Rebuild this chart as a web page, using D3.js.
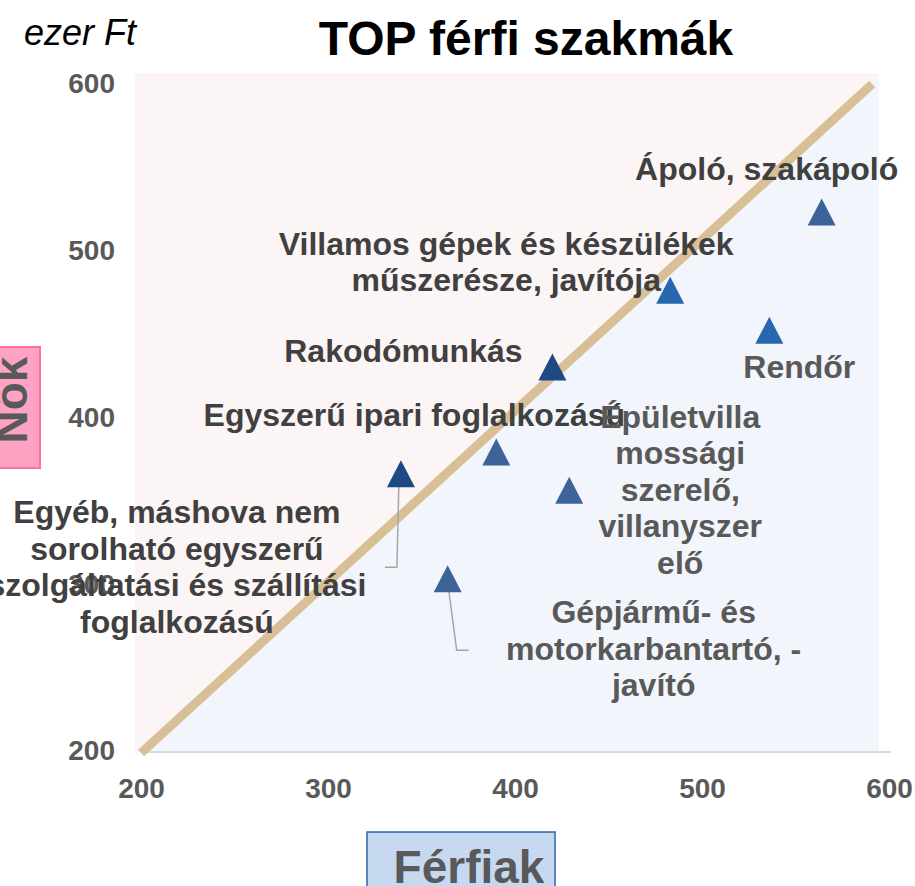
<!DOCTYPE html>
<html>
<head>
<meta charset="utf-8">
<script src="https://cdn.jsdelivr.net/npm/d3@7"></script>
<style>
  body { margin: 0; background: #fff; }
  text { font-family: "Liberation Sans", Arial, sans-serif; }
</style>
</head>
<body>
<svg width="915" height="886"></svg>
<script>
// occupations (ezer Ft): men's vs women's earnings
var jobs = [
  "Ápoló, szakápoló",
  "Villamos gépek és készülékek|műszerésze, javítója",
  "Rendőr",
  "Rakodómunkás",
  "Egyszerű ipari foglalkozású",
  "Épületvilla|mossági|szerelő,|villanyszer|elő",
  "Egyéb, máshova nem|sorolható egyszerű|szolgáltatási és szállítási|foglalkozású",
  "Gépjármű- és|motorkarbantartó, -|javító"
];
var menValues = [564, 483, 536, 420, 390, 429, 339, 364];
var womenValues = [523, 476, 452, 430, 379, 356, 366, 303];
var tickValues = [200, 300, 400, 500, 600];
// the equal-pay guide line as drawn in the picture
var guideX = [200, 591];
var guideY = [200, 600];

// styling / label layout (pixels, relative to each marker)
var markColors = ["#3d6499", "#2767ae", "#2767ae", "#1d4a84", "#3d6499", "#3d6499", "#1d4a84", "#3d6499"];
var labelColors = ["#404040", "#404040", "#595959", "#404040", "#404040", "#595959", "#404040", "#595959"];
var labelOffsets = [[-55, -32], [-164, -36], [30, 47], [-149, -5], [-82, -27], [111, -63], [-224, 49], [206, 44]];
var leaders = { 6: [[-2, 6], [-4, 93], [-16, 93]], 7: [[0, 3], [9, 71], [21, 71]] };
var lineStep = 36.5;

var data = jobs.map(function(j, i) {
  return { name: j, men: menValues[i], women: womenValues[i] };
});

var svg = d3.select("svg");
var x = d3.scaleLinear().domain([200, 600]).range([141, 889]);
var y = d3.scaleLinear().domain([200, 600]).range([751, 84]);

var plotL = 135, plotT = 73, plotR = 879, plotB = 751;

svg.append("defs").append("clipPath").attr("id", "plotclip")
  .append("rect").attr("x", plotL).attr("y", plotT).attr("width", plotR - plotL).attr("height", plotB - plotT + 6);

// background halves split by the guide line
var gx0 = x(guideX[0]), gy0 = y(guideY[0]), gx1 = x(guideX[1]), gy1 = y(guideY[1]);
var bg = svg.append("g").attr("clip-path", "url(#plotclip)");
bg.append("rect").attr("x", plotL).attr("y", plotT).attr("width", plotR - plotL).attr("height", plotB - plotT)
  .attr("fill", "#f2f5fb");
var ext = 40;
var slope = (gy1 - gy0) / (gx1 - gx0);
bg.append("path")
  .attr("d", "M" + (gx0 - ext) + "," + (gy0 - ext * slope) + "L" + (gx1 + ext) + "," + (gy1 + ext * slope) +
    "L" + plotL + "," + (plotT - 100) + "L" + (plotL - 10) + "," + (plotB + 10) + "Z")
  .attr("fill", "#fcf5f5");

// bottom axis line
svg.append("line").attr("x1", 143).attr("x2", 891).attr("y1", plotB + 1).attr("y2", plotB + 1)
  .attr("stroke", "#d9d9d9").attr("stroke-width", 2);

// guide line
svg.append("line")
  .attr("x1", gx0).attr("y1", gy0 + 2).attr("x2", gx1).attr("y2", gy1)
  .attr("stroke", "#d9bf95").attr("stroke-width", 9);

// axes
var xAxis = svg.append("g").attr("transform", "translate(0," + plotB + ")")
  .call(d3.axisBottom(x).tickValues(tickValues).tickSize(0).tickPadding(27));
var yAxis = svg.append("g").attr("transform", "translate(141,0)")
  .call(d3.axisLeft(y).tickValues(tickValues).tickSize(0).tickPadding(26));
[xAxis, yAxis].forEach(function(a) {
  a.select(".domain").remove();
  a.selectAll("text")
    .style("font-family", "'Liberation Sans', Arial, sans-serif")
    .style("font-size", "28px").style("font-weight", "bold").attr("fill", "#595959");
});

// leader lines
Object.keys(leaders).forEach(function(k) {
  var d = data[k];
  var px = x(d.men), py = y(d.women);
  svg.append("path")
    .attr("d", d3.line()(leaders[k].map(function(p) { return [px + p[0], py + p[1]]; })))
    .attr("fill", "none").attr("stroke", "#a6a6a6").attr("stroke-width", 1.5);
});

// markers
var tri = "M0,-14L14,13L-14,13Z";
svg.selectAll(".mark").data(data).enter().append("path")
  .attr("class", "mark")
  .attr("d", tri)
  .attr("transform", function(d) { return "translate(" + x(d.men) + "," + y(d.women) + ")"; })
  .attr("fill", function(d, i) { return markColors[i]; });

// labels
var labels = svg.selectAll(".lbl").data(data).enter().append("text")
  .attr("class", "lbl")
  .attr("text-anchor", "middle")
  .style("font-size", "32px").style("font-weight", "bold")
  .attr("fill", function(d, i) { return labelColors[i]; })
  .attr("x", function(d, i) { return x(d.men) + labelOffsets[i][0]; })
  .attr("y", function(d, i) { return y(d.women) + labelOffsets[i][1]; });
labels.each(function(d, i) {
  var t = d3.select(this);
  d.name.split("|").forEach(function(line, k) {
    t.append("tspan").attr("x", x(d.men) + labelOffsets[i][0])
      .attr("dy", k === 0 ? 0 : lineStep).text(line);
  });
});

// title and unit
svg.append("text").attr("x", 526).attr("y", 55).attr("text-anchor", "middle")
  .style("font-size", "48px").style("font-weight", "bold").attr("fill", "#000")
  .text("TOP férfi szakmák");
svg.append("text").attr("x", 24).attr("y", 45)
  .style("font-size", "36px").style("font-style", "italic").attr("fill", "#000")
  .text("ezer Ft");

// axis title boxes
svg.append("rect").attr("x", -2).attr("y", 347).attr("width", 42).attr("height", 121)
  .attr("fill", "#ffa3c4").attr("stroke", "#ff6f9f").attr("stroke-width", 2);
svg.append("text").attr("transform", "translate(27,400) rotate(-90)").attr("text-anchor", "middle")
  .style("font-size", "46px").style("font-weight", "bold").attr("fill", "#595959")
  .text("Nők");

svg.append("rect").attr("x", 367).attr("y", 832).attr("width", 188).attr("height", 60)
  .attr("fill", "#c6d9f1").attr("stroke", "#2e64a8").attr("stroke-width", 1.5);
svg.append("text").attr("x", 469).attr("y", 883).attr("text-anchor", "middle")
  .style("font-size", "46px").style("font-weight", "bold").attr("fill", "#595959")
  .text("Férfiak");
</script>
</body>
</html>
